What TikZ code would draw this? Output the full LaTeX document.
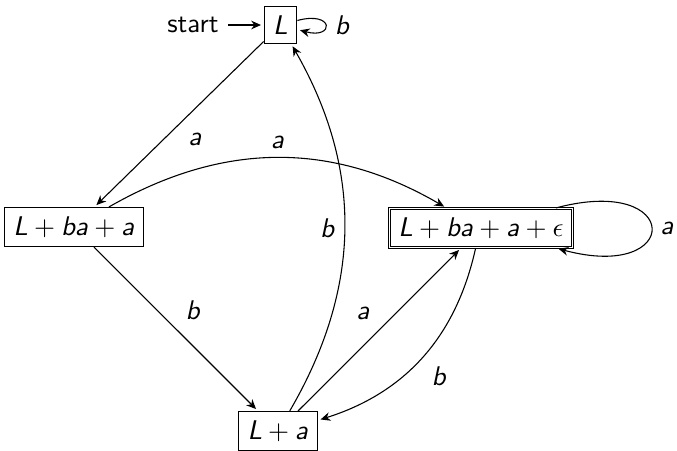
\documentclass[tikz,border=0pt]{standalone}
\usetikzlibrary{arrows.meta}
\DeclareMathAlphabet{\mathsfit}{OT1}{cmss}{m}{sl}
\newcommand\sv[1]{\mathsfit{#1}}
\begin{document}
\begin{tikzpicture}[x=0.37pt,y=0.37pt,>={Stealth[length=3.6pt,width=3.2pt]},auto,
  st/.style={rectangle,draw,inner sep=.3333em},
  acc/.style={st,double},
  tr/.style={->,shorten >=1pt}]
\useasboundingbox (0,0) rectangle (677,450);
\node[st] (L) at (280.5,425) {$\sv{L}$};
\node[st] (q1) at (74,223) {$\sv{L}+\sv{ba}+\sv{a}$};
\node[acc] (q2) at (481,222) {$\sv{L}+\sv{ba}+\sv{a}+\epsilon$};
\node[st] (q3) at (278,19) {$\sv{L}+\sv{a}$};
\node[font=\sffamily] (start) at (193,425) {start};
\path[tr]
 (start) edge (L)
 (L) edge[loop right] node {$\sv{b}$} ()
 (L) edge node {$\sv{a}$} (q1)
 (q1) edge[bend left=30] node {$\sv{a}$} (q2)
 (q1) edge node {$\sv{b}$} (q3)
 (q3) edge[bend right=30] node {$\sv{b}$} (L)
 (q3) edge node {$\sv{a}$} (q2)
 (q2) edge[bend left=30] node {$\sv{b}$} (q3)
 (q2) edge[out=15,in=-15,looseness=8.4,min distance=5mm] node {$\sv{a}$} (q2);
\end{tikzpicture}
\end{document}
